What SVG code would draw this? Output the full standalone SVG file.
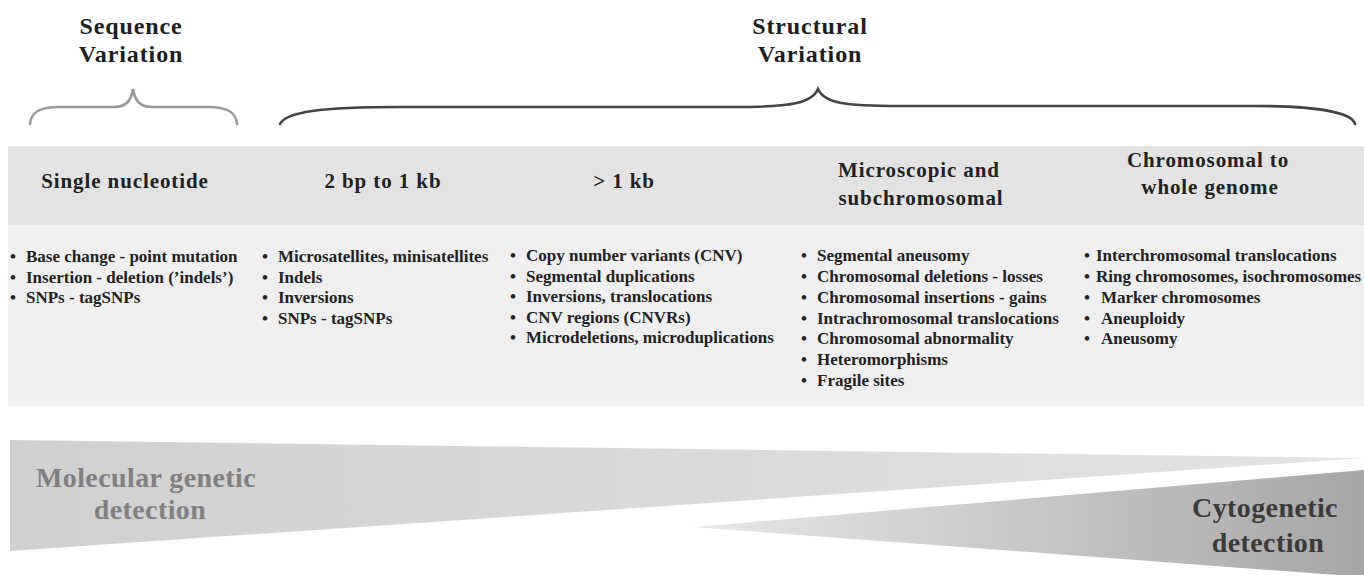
<svg xmlns="http://www.w3.org/2000/svg" width="1364" height="575" viewBox="0 0 1364 575">
<style>
text { font-family: "Liberation Serif", "Times New Roman", serif; font-weight: bold; }
.title { font-size: 24px; fill: #1e1e1e; text-anchor: middle; letter-spacing: 0.9px; }
.head { font-size: 21px; fill: #222; text-anchor: middle; letter-spacing: 0.9px; }
.item { font-size: 17px; fill: #222; }
.mol { font-size: 28px; fill: #808080; text-anchor: middle; letter-spacing: 0.4px; }
.cyto { font-size: 28px; fill: #3a3a3a; text-anchor: middle; letter-spacing: 0.4px; }
.brace { fill: none; stroke-width: 2.6; stroke-linecap: round; }
</style>
<defs>
<linearGradient id="gMol" x1="0" y1="0" x2="1" y2="0">
<stop offset="0" stop-color="#d0d0d0"/>
<stop offset="1" stop-color="#e4e4e4"/>
</linearGradient>
<linearGradient id="gCyto" x1="0" y1="0" x2="1" y2="0">
<stop offset="0" stop-color="#e8e8e8"/>
<stop offset="1" stop-color="#a6a6a6"/>
</linearGradient>
</defs>
<rect width="1364" height="575" fill="#ffffff"/>

<g id="titles">
<text class="title" x="131" y="34">Sequence</text>
<text class="title" x="131" y="62">Variation</text>
<text class="title" x="810" y="34">Structural</text>
<text class="title" x="810" y="62">Variation</text>
</g>

<g id="braces">
<path class="brace" stroke="#9a9a9a" d="M30,124 C31,112 40,107 58,107 L114,107 C126,107 131,101 133,89 C135,101 140,107 152,107 L209,107 C227,107 236,112 237,124"/>
<path class="brace" stroke="#444444" d="M280,124 C286,112 320,107 400,107 L735,107 C792,107 812,103 818,89 C824,103 844,106 900,106 L1255,106 C1320,106 1352,113 1355,124"/>
</g>

<g id="bands">
<rect x="8" y="146" width="1356" height="79" fill="#e3e3e3"/>
<rect x="8" y="225" width="1356" height="181" fill="#efefef"/>
</g>

<g id="col-single">
<text class="head" x="125" y="188">Single nucleotide</text>
<text class="item" y="262"><tspan x="10">•</tspan><tspan x="26">Base change - point mutation</tspan></text>
<text class="item" y="282.5"><tspan x="10">•</tspan><tspan x="26">Insertion - deletion (’indels’)</tspan></text>
<text class="item" y="303"><tspan x="10">•</tspan><tspan x="26">SNPs - tagSNPs</tspan></text>
</g>

<g id="col-2bp">
<text class="head" x="383" y="188">2 bp to 1 kb</text>
<text class="item" y="262"><tspan x="262">•</tspan><tspan x="278">Microsatellites, minisatellites</tspan></text>
<text class="item" y="282.5"><tspan x="262">•</tspan><tspan x="278">Indels</tspan></text>
<text class="item" y="303"><tspan x="262">•</tspan><tspan x="278">Inversions</tspan></text>
<text class="item" y="323.5"><tspan x="262">•</tspan><tspan x="278">SNPs - tagSNPs</tspan></text>
</g>

<g id="col-1kb">
<text class="head" x="624" y="188">&gt; 1 kb</text>
<text class="item" y="261"><tspan x="510">•</tspan><tspan x="526">Copy number variants (CNV)</tspan></text>
<text class="item" y="281.5"><tspan x="510">•</tspan><tspan x="526">Segmental duplications</tspan></text>
<text class="item" y="302"><tspan x="510">•</tspan><tspan x="526">Inversions, translocations</tspan></text>
<text class="item" y="322.5"><tspan x="510">•</tspan><tspan x="526">CNV regions (CNVRs)</tspan></text>
<text class="item" y="343"><tspan x="510">•</tspan><tspan x="526">Microdeletions, microduplications</tspan></text>
</g>

<g id="col-micro">
<text class="head" x="919" y="177">Microscopic and</text>
<text class="head" x="921" y="205">subchromosomal</text>
<text class="item" y="260.5"><tspan x="801">•</tspan><tspan x="817">Segmental aneusomy</tspan></text>
<text class="item" y="281.5"><tspan x="801">•</tspan><tspan x="817">Chromosomal deletions - losses</tspan></text>
<text class="item" y="302.5"><tspan x="801">•</tspan><tspan x="817">Chromosomal insertions - gains</tspan></text>
<text class="item" y="323.5"><tspan x="801">•</tspan><tspan x="817">Intrachromosomal translocations</tspan></text>
<text class="item" y="344"><tspan x="801">•</tspan><tspan x="817">Chromosomal abnormality</tspan></text>
<text class="item" y="365"><tspan x="801">•</tspan><tspan x="817">Heteromorphisms</tspan></text>
<text class="item" y="386"><tspan x="801">•</tspan><tspan x="817">Fragile sites</tspan></text>
</g>

<g id="col-chromo">
<text class="head" x="1208" y="167">Chromosomal to</text>
<text class="head" x="1210" y="194">whole genome</text>
<text class="item" y="260.5"><tspan x="1084">•</tspan><tspan x="1096">Interchromosomal translocations</tspan></text>
<text class="item" y="281.5"><tspan x="1084">•</tspan><tspan x="1096">Ring chromosomes, isochromosomes</tspan></text>
<text class="item" y="302.5"><tspan x="1084">•</tspan><tspan x="1101">Marker chromosomes</tspan></text>
<text class="item" y="323.5"><tspan x="1084">•</tspan><tspan x="1101">Aneuploidy</tspan></text>
<text class="item" y="344"><tspan x="1084">•</tspan><tspan x="1101">Aneusomy</tspan></text>
</g>

<g id="molecular">
<polygon points="10,440 1364,458 10,551" fill="url(#gMol)"/>
<text class="mol" x="146" y="487">Molecular genetic</text>
<text class="mol" x="150" y="519">detection</text>
</g>

<g id="cytogenetic">
<polygon points="693,527 1364,470 1364,577" fill="url(#gCyto)"/>
<text class="cyto" x="1265" y="517">Cytogenetic</text>
<text class="cyto" x="1268" y="552">detection</text>
</g>
</svg>
